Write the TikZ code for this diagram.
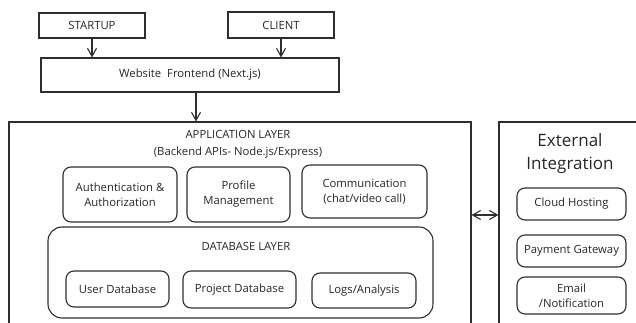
\documentclass[tikz,border=0pt]{standalone}
\usepackage{fontspec}
\setmainfont{Open Sans}
\usetikzlibrary{arrows.meta}
\tikzset{
  x=1pt, y=-1pt,
  ink/.style={draw=black!82, line width=1.1pt},
  plainbox/.style={ink, rectangle, inner sep=0pt, font=\fontsize{11.3}{13}\selectfont, text=black!85},
  softbox/.style={plainbox, rounded corners=8pt, align=center, font=\fontsize{11.3}{15}\selectfont},
  label/.style={align=center, text=black!85, font=\fontsize{11.3}{17}\selectfont},
  arr/.style={ink, -{Straight Barb[length=8pt, width=9pt]}},
  biarr/.style={ink, {Straight Barb[length=8pt, width=9pt]}-{Straight Barb[length=8pt, width=9pt]}}
}
\begin{document}
\begin{tikzpicture}
\useasboundingbox (0,0) rectangle (636,323);
\clip (0,0) rectangle (636,323);

% entry points
\node[plainbox, minimum width=106pt, minimum height=25pt] (startup) at (92,25.5) {STARTUP};
\node[plainbox, minimum width=106pt, minimum height=26pt] (client) at (281,25) {CLIENT};
\node[plainbox, minimum width=298pt, minimum height=34pt] (front) at (190,75) {Website\ \ Frontend (Next.js)};

% application layer frame (runs past the lower edge)
\node[plainbox, minimum width=462pt, minimum height=216pt] (app) at (240,230) {};
\node[label] (apptitle) at (238,144) {APPLICATION LAYER\\(Backend APIs- Node.js/Express)};

\node[softbox, minimum width=114pt, minimum height=55pt] (auth) at (120,194.5) {Authentication \&\\Authorization};
\node[softbox, minimum width=103pt, minimum height=55pt] (profile) at (238.5,194.5) {Profile\\Management};
\node[softbox, minimum width=125pt, minimum height=53pt] (comm) at (364.5,191.5) {Communication\\(chat/video call)};

% database layer
\node[softbox, rounded corners=14pt, minimum width=385pt, minimum height=91pt] (db) at (240.5,272.5) {};
\node[label] (dbtitle) at (246,246) {DATABASE LAYER};
\node[softbox, minimum width=103pt, minimum height=36pt] (userdb) at (117.5,289) {User Database};
\node[softbox, minimum width=113pt, minimum height=37pt] (projdb) at (239.5,289.5) {Project Database};
\node[softbox, minimum width=104pt, minimum height=35pt] (logs) at (364,290.5) {Logs/Analysis};

% external integration column (runs past the right and lower edges)
\node[plainbox, minimum width=150pt, minimum height=210pt] (ext) at (574,227) {};
\node[align=center, text=black!85, font=\fontsize{17}{23}\selectfont] (exttitle) at (570,153.5) {External\\Integration};
\node[softbox, minimum width=109pt, minimum height=32pt] (cloud) at (571.5,204) {Cloud Hosting};
\node[softbox, minimum width=109pt, minimum height=32pt] (pay) at (571.5,251) {Payment Gateway};
\node[softbox, minimum width=109pt, minimum height=37pt] (mail) at (571.5,295.5) {Email\\/Notification};

% connectors
\draw[arr] (startup.south) -- (startup.south |- front.north);
\draw[arr] (client.south) -- (client.south |- front.north);
\draw[arr] ([xshift=6pt]front.south) -- ([xshift=6pt]front.south |- app.north);
\coordinate (linkl) at (app.east |- 0,215);
\coordinate (linkr) at (ext.west |- 0,215);
\draw[biarr] (linkl) -- (linkr);
\end{tikzpicture}
\end{document}
